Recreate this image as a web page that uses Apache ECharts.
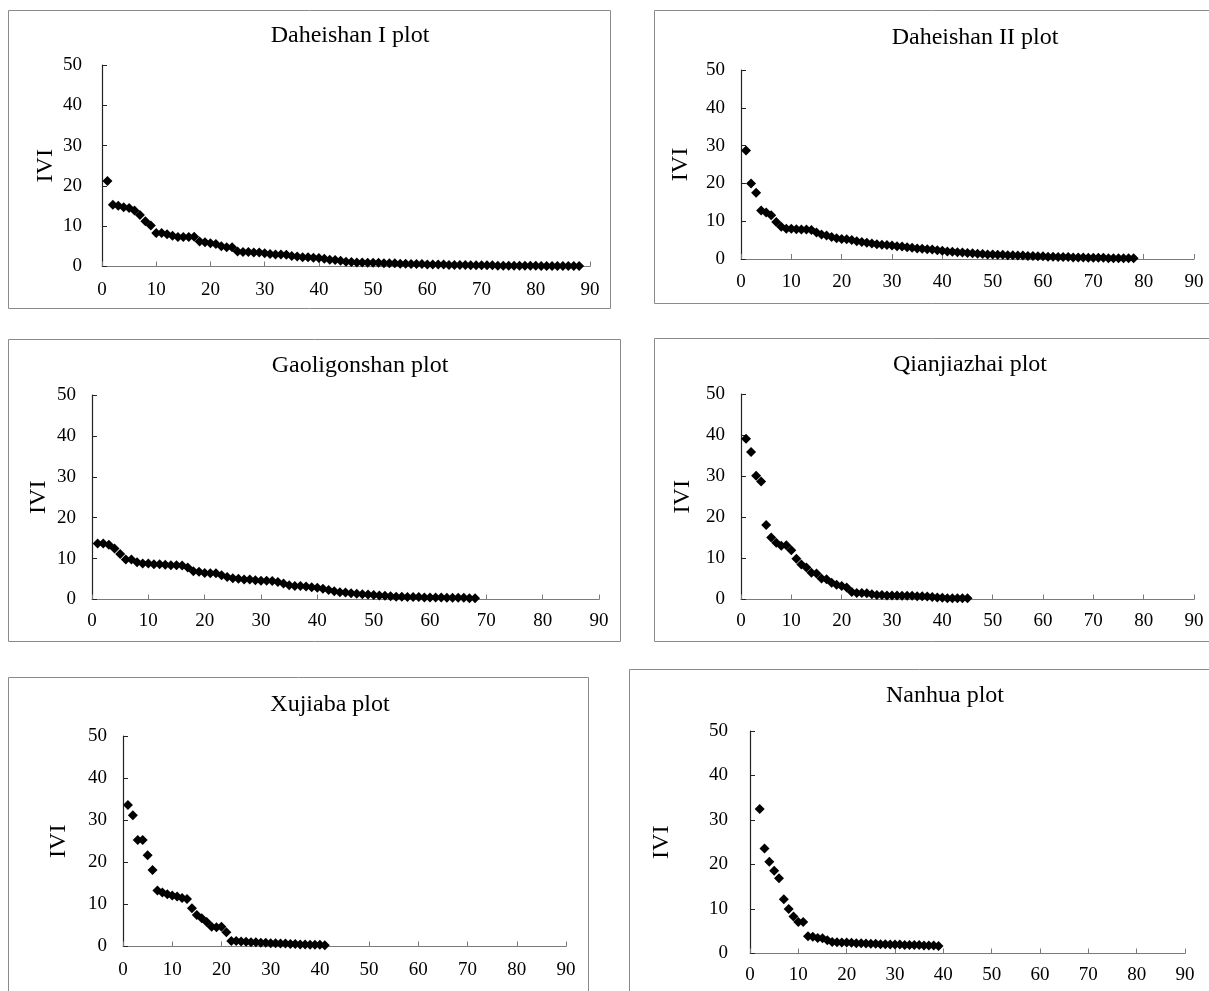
<!DOCTYPE html>
<html>
<head>
<meta charset="utf-8">
<script src="https://cdn.jsdelivr.net/npm/echarts@6/dist/echarts.min.js"></script>
<style>
html,body{margin:0;padding:0;background:#fff;}
#c{width:1209px;height:991px;}
</style>
</head>
<body>
<div id="c"></div>
<script>
// ---- data ----
var titles = ["Daheishan I plot", "Daheishan II plot", "Gaoligonshan plot", "Qianjiazhai plot", "Xujiaba plot", "Nanhua plot"];
var xTicks = [0, 10, 20, 30, 40, 50, 60, 70, 80, 90];
var yTicks = [0, 10, 20, 30, 40, 50];
var yName = "IVI";

var daheishanI = [21.2, 15.3, 15.1, 14.7, 14.5, 13.9, 12.8, 11.2, 10.2, 8.3, 8.3, 8.0, 7.6, 7.3, 7.3, 7.3, 7.4, 6.2, 6.0, 5.8, 5.6, 5.0, 4.8, 4.8, 3.7, 3.6, 3.6, 3.5, 3.5, 3.3, 3.1, 3.0, 3.0, 2.9, 2.6, 2.5, 2.3, 2.3, 2.2, 2.1, 1.9, 1.7, 1.6, 1.4, 1.2, 1.1, 1.0, 1.0, 0.9, 0.9, 0.9, 0.8, 0.8, 0.8, 0.7, 0.7, 0.6, 0.6, 0.6, 0.5, 0.5, 0.5, 0.5, 0.4, 0.4, 0.4, 0.4, 0.3, 0.3, 0.3, 0.3, 0.3, 0.2, 0.2, 0.2, 0.2, 0.2, 0.2, 0.2, 0.2, 0.1, 0.1, 0.1, 0.1, 0.1, 0.1, 0.1, 0.1];
var daheishanII = [28.7, 20.0, 17.5, 12.8, 12.3, 11.6, 9.8, 8.5, 8.0, 8.0, 7.9, 7.8, 7.8, 7.7, 7.0, 6.5, 6.2, 5.8, 5.5, 5.3, 5.2, 5.0, 4.7, 4.5, 4.3, 4.1, 3.9, 3.8, 3.7, 3.6, 3.4, 3.3, 3.1, 3.0, 2.8, 2.7, 2.6, 2.5, 2.3, 2.2, 2.0, 1.9, 1.8, 1.7, 1.6, 1.5, 1.4, 1.3, 1.2, 1.2, 1.1, 1.1, 1.0, 1.0, 0.9, 0.9, 0.8, 0.8, 0.7, 0.7, 0.6, 0.6, 0.5, 0.5, 0.5, 0.4, 0.4, 0.4, 0.3, 0.3, 0.3, 0.3, 0.2, 0.2, 0.2, 0.2, 0.2, 0.2];
var gaoligonshan = [13.7, 13.7, 13.4, 12.5, 11.1, 9.8, 9.8, 9.1, 8.8, 8.8, 8.6, 8.6, 8.5, 8.4, 8.4, 8.3, 7.8, 6.9, 6.8, 6.5, 6.4, 6.4, 5.9, 5.5, 5.2, 5.1, 4.9, 4.9, 4.7, 4.6, 4.6, 4.5, 4.3, 3.9, 3.5, 3.3, 3.3, 3.2, 3.0, 2.9, 2.6, 2.3, 2.0, 1.8, 1.7, 1.5, 1.4, 1.3, 1.2, 1.1, 1.0, 0.9, 0.8, 0.7, 0.7, 0.6, 0.6, 0.6, 0.5, 0.5, 0.5, 0.5, 0.4, 0.4, 0.4, 0.4, 0.3, 0.3];
var qianjiazhai = [39.1, 35.9, 30.1, 28.7, 18.1, 15.1, 13.8, 13.1, 13.2, 12.0, 9.9, 8.5, 7.8, 6.5, 6.3, 5.1, 4.9, 4.1, 3.6, 3.3, 2.9, 1.8, 1.6, 1.6, 1.5, 1.3, 1.1, 1.1, 1.0, 1.0, 1.0, 0.9, 0.9, 0.9, 0.8, 0.8, 0.7, 0.6, 0.5, 0.4, 0.3, 0.3, 0.3, 0.3, 0.3];
var xujiaba = [33.6, 31.2, 25.3, 25.3, 21.7, 18.2, 13.3, 12.8, 12.4, 12.1, 11.9, 11.5, 11.3, 9.1, 7.5, 6.7, 5.8, 4.7, 4.6, 4.7, 3.4, 1.3, 1.3, 1.2, 1.1, 1.0, 1.0, 0.9, 0.9, 0.8, 0.8, 0.7, 0.7, 0.6, 0.6, 0.5, 0.5, 0.4, 0.4, 0.4, 0.3];
var nanhua = [32.5, 23.6, 20.6, 18.6, 16.9, 12.2, 10.0, 8.3, 7.1, 7.1, 3.9, 3.75, 3.5, 3.4, 3.0, 2.6, 2.55, 2.5, 2.5, 2.4, 2.3, 2.3, 2.25, 2.2, 2.2, 2.1, 2.1, 2.0, 2.0, 2.0, 1.9, 1.9, 1.9, 1.9, 1.8, 1.8, 1.8, 1.7];
// rank at which each series starts on the x axis
var firstRank = [1, 1, 1, 1, 1, 2];

var allSeries = [daheishanI, daheishanII, gaoligonshan, qianjiazhai, xujiaba, nanhua];

// ---- layout (styles / positions) ----
var FONT = "'Liberation Serif', 'Times New Roman', serif";
var grids = [
  {left: 102, top: 65, width: 488, height: 201.5},
  {left: 741, top: 70, width: 453, height: 189},
  {left: 92,  top: 395, width: 507, height: 204.5},
  {left: 741, top: 394, width: 453, height: 205.5},
  {left: 123, top: 736, width: 443, height: 210.5},
  {left: 750, top: 731, width: 435, height: 222.5}
];
var boxes = [
  {x: 8, y: 10, w: 602, h: 298},
  {x: 654, y: 10, w: 600, h: 293},
  {x: 8, y: 339, w: 612, h: 302},
  {x: 654, y: 338, w: 600, h: 303},
  {x: 8, y: 677, w: 580, h: 340},
  {x: 629, y: 669, w: 620, h: 340}
];
var titlePos = [[350, 36], [975, 38], [360, 366], [970, 365], [330, 705], [945, 696]];
var yNameGap = [44, 48, 41, 46, 52, 76];
var yLabelMargin = [20, 16, 16, 16, 16, 22];
var xLabelMargin = [14, 14, 12, 12, 14, 12];

var option = {
  animation: false,
  backgroundColor: '#ffffff',
  grid: grids.map(function (g) { return {left: g.left, top: g.top, width: g.width, height: g.height, containLabel: false}; }),
  xAxis: grids.map(function (g, i) {
    return {
      type: 'value', gridIndex: i, min: xTicks[0], max: xTicks[xTicks.length - 1], interval: 10,
      axisLine: {show: true, lineStyle: {color: '#7a7a7a', width: 1}},
      axisTick: {show: true, inside: true, length: 5, lineStyle: {color: '#7a7a7a'}},
      splitLine: {show: false},
      axisLabel: {color: '#000', fontFamily: FONT, fontSize: 19, margin: xLabelMargin[i]}
    };
  }),
  yAxis: grids.map(function (g, i) {
    return {
      type: 'value', gridIndex: i, min: yTicks[0], max: yTicks[yTicks.length - 1], interval: 10,
      name: yName, nameLocation: 'middle', nameGap: yNameGap[i], nameRotate: 90,
      nameTextStyle: {color: '#000', fontFamily: FONT, fontSize: 24},
      axisLine: {show: true, lineStyle: {color: '#222', width: 1.2}},
      axisTick: {show: true, inside: true, length: 5, lineStyle: {color: '#222'}},
      splitLine: {show: false},
      axisLabel: {color: '#000', fontFamily: FONT, fontSize: 19, margin: yLabelMargin[i]}
    };
  }),
  series: allSeries.map(function (arr, i) {
    return {
      type: 'scatter', xAxisIndex: i, yAxisIndex: i,
      symbol: 'diamond', symbolSize: [10, 10],
      itemStyle: {color: '#000', opacity: 1},
      data: arr.map(function (v, k) { return [k + firstRank[i], v]; })
    };
  }),
  graphic: boxes.map(function (b) {
    return {type: 'rect', shape: {x: b.x + 0.5, y: b.y + 0.5, width: b.w, height: b.h},
            style: {fill: 'none', stroke: '#8a8a8a', lineWidth: 1}, z: -1};
  }).concat(titles.map(function (t, i) {
    return {type: 'text', x: titlePos[i][0], y: titlePos[i][1],
            style: {text: t, font: '24px ' + FONT, fill: '#000', textAlign: 'center', textVerticalAlign: 'middle'}};
  }))
};

var chart = echarts.init(document.getElementById('c'), null, {renderer: 'canvas'});
chart.setOption(option);
</script>
</body>
</html>
